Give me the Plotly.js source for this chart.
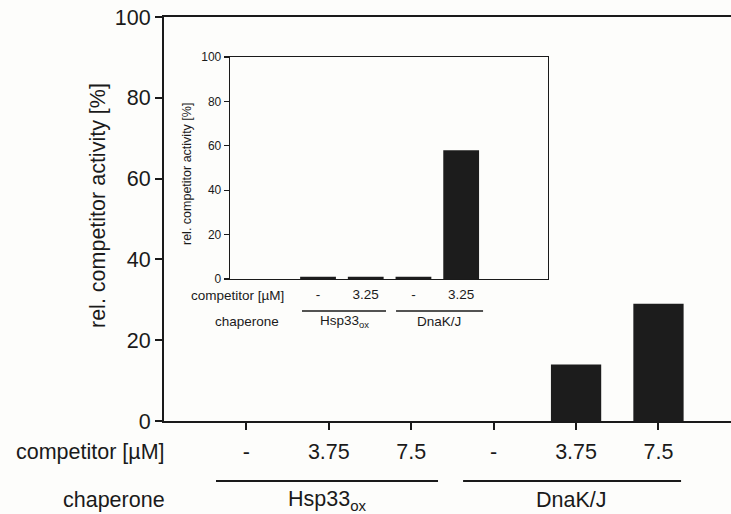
<!DOCTYPE html>
<html>
<head>
<meta charset="utf-8">
<script src="https://cdn.plot.ly/plotly-3.0.1.min.js"></script>
<style>html,body{margin:0;padding:0;background:#fdfdfb;}</style>
</head>
<body>
<div id="chart" style="width:731px;height:514px;"></div>
<script>
// Main chart data
const mainPositions = [0, 1, 2, 3, 4, 5];
const mainCompetitorLabels = ["-", "3.75", "7.5", "-", "3.75", "7.5"];
const mainValues = [0, 0, 0, 0, 14, 29];
const mainGroups = ["Hsp33<sub>ox</sub>", "DnaK/J"];

// Inset chart data
const insetPositions = [0, 1, 2, 3];
const insetCompetitorLabels = ["-", "3.25", "-", "3.25"];
const insetValues = [1, 1, 1, 58];
const insetGroups = ["Hsp33<sub>ox</sub>", "DnaK/J"];

const yTicks = [0, 20, 40, 60, 80, 100];

const FONT = "Liberation Sans, Arial, sans-serif";
const INK = "#1a1a1a";
const BAR = "#1c1c1c";

const traces = [
  {
    type: "bar", x: mainPositions, y: mainValues, width: 0.61,
    marker: {color: BAR, line: {width: 0}}, xaxis: "x", yaxis: "y",
    hoverinfo: "skip"
  },
  {
    type: "bar", x: insetPositions, y: insetValues, width: 0.75,
    marker: {color: BAR, line: {width: 0}}, xaxis: "x2", yaxis: "y2",
    hoverinfo: "skip"
  }
];

// pixel helpers (plot area: x 164..731, y 17..421)
const px = p => (p - 164) / 567;
const py = p => (421 - p) / 404;

const layout = {
  width: 731, height: 514,
  margin: {l: 164, r: 0, t: 17, b: 93},
  paper_bgcolor: "#fdfdfb", plot_bgcolor: "rgba(0,0,0,0)",
  showlegend: false,
  font: {family: FONT, color: INK},
  xaxis: {
    domain: [0, 1], range: [-1, 5.88],
    tickmode: "array", tickvals: mainPositions, ticktext: mainCompetitorLabels,
    ticks: "outside", ticklen: 7, tickwidth: 2, tickcolor: INK,
    showline: true, linewidth: 2, linecolor: INK, mirror: true,
    showgrid: false, zeroline: false, ticklabelstandoff: 3,
    tickfont: {size: 21.5, family: FONT, color: INK}
  },
  yaxis: {
    domain: [0, 1], range: [0, 100],
    tickmode: "array", tickvals: yTicks,
    ticks: "outside", ticklen: 7, tickwidth: 2, tickcolor: INK,
    showline: true, linewidth: 2, linecolor: INK,
    showgrid: false, zeroline: false,
    tickfont: {size: 21.5, family: FONT, color: INK}
  },
  xaxis2: {
    domain: [px(230), px(548)], anchor: "y2", range: [-1.845, 4.82],
    tickmode: "array", tickvals: insetPositions, ticktext: insetCompetitorLabels,
    ticks: "", showline: true, linewidth: 1.3, linecolor: INK, mirror: true,
    showgrid: false, zeroline: false, ticklabelstandoff: 2,
    tickfont: {size: 13.5, family: FONT, color: INK}
  },
  yaxis2: {
    domain: [py(279), py(57)], anchor: "x2", range: [0, 100],
    tickmode: "array", tickvals: yTicks,
    ticks: "outside", ticklen: 5, tickwidth: 1.3, tickcolor: INK,
    showline: true, linewidth: 1.3, linecolor: INK, mirror: true,
    showgrid: false, zeroline: false,
    tickfont: {size: 12, family: FONT, color: INK}
  },
  shapes: [
    {type: "line", xref: "x", yref: "paper", x0: -0.369, x1: 2.325, y0: py(481), y1: py(481), line: {color: INK, width: 2}},
    {type: "line", xref: "x", yref: "paper", x0: 2.629, x1: 5.274, y0: py(481), y1: py(481), line: {color: INK, width: 2}},
    {type: "line", xref: "x2", yref: "paper", x0: -0.336, x1: 1.425, y0: py(311), y1: py(311), line: {color: INK, width: 1.3}},
    {type: "line", xref: "x2", yref: "paper", x0: 1.635, x1: 3.459, y0: py(311), y1: py(311), line: {color: INK, width: 1.3}}
  ],
  annotations: [
    {text: "rel. competitor activity [%]", xref: "paper", yref: "paper", x: px(98), y: py(206), textangle: -90, showarrow: false, xanchor: "center", yanchor: "middle", font: {size: 21.5}},
    {text: "competitor [µM]", xref: "paper", yref: "paper", x: px(167), y: py(452), showarrow: false, xanchor: "right", yanchor: "middle", font: {size: 21.5}},
    {text: "chaperone", xref: "paper", yref: "paper", x: px(167), y: py(500), showarrow: false, xanchor: "right", yanchor: "middle", font: {size: 21.5}},
    {text: mainGroups[0], xref: "x", yref: "paper", x: 0.978, y: py(500), showarrow: false, xanchor: "center", yanchor: "middle", font: {size: 21.5}},
    {text: mainGroups[1], xref: "x", yref: "paper", x: 3.95, y: py(500), showarrow: false, xanchor: "center", yanchor: "middle", font: {size: 21.5}},
    {text: "rel. competitor activity [%]", xref: "paper", yref: "paper", x: px(187), y: py(174), textangle: -90, showarrow: false, xanchor: "center", yanchor: "middle", font: {size: 12.5}},
    {text: "competitor [µM]", xref: "paper", yref: "paper", x: px(286), y: py(295.5), showarrow: false, xanchor: "right", yanchor: "middle", font: {size: 13.5}},
    {text: "chaperone", xref: "paper", yref: "paper", x: px(281), y: py(321.5), showarrow: false, xanchor: "right", yanchor: "middle", font: {size: 13.5}},
    {text: insetGroups[0], xref: "x2", yref: "paper", x: 0.545, y: py(321.5), showarrow: false, xanchor: "center", yanchor: "middle", font: {size: 13.5}},
    {text: insetGroups[1], xref: "x2", yref: "paper", x: 2.545, y: py(321.5), showarrow: false, xanchor: "center", yanchor: "middle", font: {size: 13.5}}
  ]
};

Plotly.newPlot("chart", traces, layout, {displayModeBar: false, staticPlot: true});
</script>
</body>
</html>
